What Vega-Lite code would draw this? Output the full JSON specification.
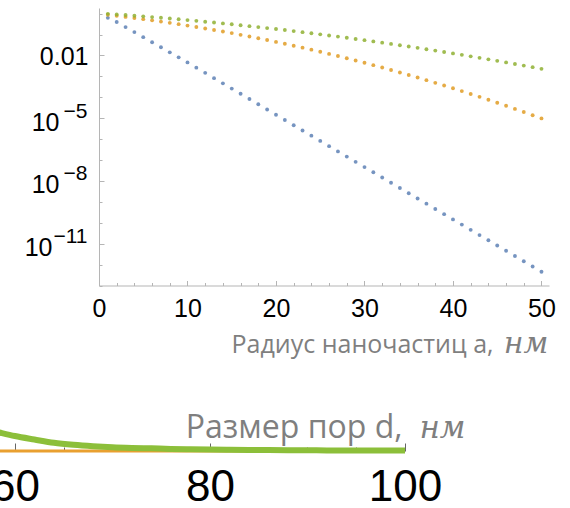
{
  "$schema": "https://vega.github.io/schema/vega-lite/v6.json",
  "background": "white",
  "width": 570,
  "height": 508,
  "autosize": {"type": "none", "contains": "padding"},
  "padding": 0,
  "config": {"view": {"stroke": null}, "axis": {"grid": false}},
  "datasets": {
    "particles": [
      {"a":1,"p":0.631,"s":"s1"},{"a":2,"p":0.398,"s":"s1"},{"a":3,"p":0.228,"s":"s1"},{"a":4,"p":0.131,"s":"s1"},{"a":5,"p":0.075,"s":"s1"},
      {"a":6,"p":0.0431,"s":"s1"},{"a":7,"p":0.0247,"s":"s1"},{"a":8,"p":0.0141,"s":"s1"},{"a":9,"p":0.00811,"s":"s1"},{"a":10,"p":0.00465,"s":"s1"},
      {"a":11,"p":0.00261,"s":"s1"},{"a":12,"p":0.00147,"s":"s1"},{"a":13,"p":0.000824,"s":"s1"},{"a":14,"p":0.000463,"s":"s1"},{"a":15,"p":0.000261,"s":"s1"},
      {"a":16,"p":0.000147,"s":"s1"},{"a":17,"p":8.24e-5,"s":"s1"},{"a":18,"p":4.62e-5,"s":"s1"},{"a":19,"p":2.6e-5,"s":"s1"},{"a":20,"p":1.46e-5,"s":"s1"},
      {"a":21,"p":8.22e-6,"s":"s1"},{"a":22,"p":4.62e-6,"s":"s1"},{"a":23,"p":2.59e-6,"s":"s1"},{"a":24,"p":1.46e-6,"s":"s1"},{"a":25,"p":8.2e-7,"s":"s1"},
      {"a":26,"p":4.61e-7,"s":"s1"},{"a":27,"p":2.59e-7,"s":"s1"},{"a":28,"p":1.46e-7,"s":"s1"},{"a":29,"p":8.18e-8,"s":"s1"},{"a":30,"p":4.6e-8,"s":"s1"},
      {"a":31,"p":2.59e-8,"s":"s1"},{"a":32,"p":1.46e-8,"s":"s1"},{"a":33,"p":8.17e-9,"s":"s1"},{"a":34,"p":4.59e-9,"s":"s1"},{"a":35,"p":2.58e-9,"s":"s1"},
      {"a":36,"p":1.45e-9,"s":"s1"},{"a":37,"p":8.17e-10,"s":"s1"},{"a":38,"p":4.58e-10,"s":"s1"},{"a":39,"p":2.58e-10,"s":"s1"},{"a":40,"p":1.45e-10,"s":"s1"},
      {"a":41,"p":8.15e-11,"s":"s1"},{"a":42,"p":4.58e-11,"s":"s1"},{"a":43,"p":2.57e-11,"s":"s1"},{"a":44,"p":1.45e-11,"s":"s1"},{"a":45,"p":8.13e-12,"s":"s1"},
      {"a":46,"p":4.57e-12,"s":"s1"},{"a":47,"p":2.57e-12,"s":"s1"},{"a":48,"p":1.44e-12,"s":"s1"},{"a":49,"p":8.11e-13,"s":"s1"},{"a":50,"p":4.56e-13,"s":"s1"},
      {"a":1,"p":0.879,"s":"s2"},{"a":2,"p":0.785,"s":"s2"},{"a":3,"p":0.7,"s":"s2"},{"a":4,"p":0.619,"s":"s2"},{"a":5,"p":0.546,"s":"s2"},
      {"a":6,"p":0.479,"s":"s2"},{"a":7,"p":0.417,"s":"s2"},{"a":8,"p":0.362,"s":"s2"},{"a":9,"p":0.313,"s":"s2"},{"a":10,"p":0.269,"s":"s2"},
      {"a":11,"p":0.23,"s":"s2"},{"a":12,"p":0.195,"s":"s2"},{"a":13,"p":0.165,"s":"s2"},{"a":14,"p":0.139,"s":"s2"},{"a":15,"p":0.117,"s":"s2"},
      {"a":16,"p":0.097,"s":"s2"},{"a":17,"p":0.0805,"s":"s2"},{"a":18,"p":0.0665,"s":"s2"},{"a":19,"p":0.0546,"s":"s2"},{"a":20,"p":0.0446,"s":"s2"},
      {"a":21,"p":0.0362,"s":"s2"},{"a":22,"p":0.0293,"s":"s2"},{"a":23,"p":0.0236,"s":"s2"},{"a":24,"p":0.0189,"s":"s2"},{"a":25,"p":0.015,"s":"s2"},
      {"a":26,"p":0.0119,"s":"s2"},{"a":27,"p":0.00938,"s":"s2"},{"a":28,"p":0.00736,"s":"s2"},{"a":29,"p":0.00574,"s":"s2"},{"a":30,"p":0.00446,"s":"s2"},
      {"a":31,"p":0.00344,"s":"s2"},{"a":32,"p":0.00265,"s":"s2"},{"a":33,"p":0.00202,"s":"s2"},{"a":34,"p":0.00154,"s":"s2"},{"a":35,"p":0.00117,"s":"s2"},
      {"a":36,"p":0.000879,"s":"s2"},{"a":37,"p":0.000658,"s":"s2"},{"a":38,"p":0.000491,"s":"s2"},{"a":39,"p":0.000365,"s":"s2"},{"a":40,"p":0.000269,"s":"s2"},
      {"a":41,"p":0.000198,"s":"s2"},{"a":42,"p":0.000144,"s":"s2"},{"a":43,"p":0.000105,"s":"s2"},{"a":44,"p":7.59e-5,"s":"s2"},{"a":45,"p":5.47e-5,"s":"s2"},
      {"a":46,"p":3.92e-5,"s":"s2"},{"a":47,"p":2.79e-5,"s":"s2"},{"a":48,"p":1.98e-5,"s":"s2"},{"a":49,"p":1.39e-5,"s":"s2"},{"a":50,"p":9.8e-6,"s":"s2"},
      {"a":1,"p":0.98,"s":"s3"},{"a":2,"p":0.916,"s":"s3"},{"a":3,"p":0.855,"s":"s3"},{"a":4,"p":0.796,"s":"s3"},{"a":5,"p":0.74,"s":"s3"},
      {"a":6,"p":0.684,"s":"s3"},{"a":7,"p":0.632,"s":"s3"},{"a":8,"p":0.583,"s":"s3"},{"a":9,"p":0.536,"s":"s3"},{"a":10,"p":0.492,"s":"s3"},
      {"a":11,"p":0.451,"s":"s3"},{"a":12,"p":0.411,"s":"s3"},{"a":13,"p":0.375,"s":"s3"},{"a":14,"p":0.34,"s":"s3"},{"a":15,"p":0.309,"s":"s3"},
      {"a":16,"p":0.28,"s":"s3"},{"a":17,"p":0.252,"s":"s3"},{"a":18,"p":0.228,"s":"s3"},{"a":19,"p":0.204,"s":"s3"},{"a":20,"p":0.183,"s":"s3"},
      {"a":21,"p":0.164,"s":"s3"},{"a":22,"p":0.146,"s":"s3"},{"a":23,"p":0.13,"s":"s3"},{"a":24,"p":0.115,"s":"s3"},{"a":25,"p":0.102,"s":"s3"},
      {"a":26,"p":0.0904,"s":"s3"},{"a":27,"p":0.0796,"s":"s3"},{"a":28,"p":0.07,"s":"s3"},{"a":29,"p":0.0615,"s":"s3"},{"a":30,"p":0.0538,"s":"s3"},
      {"a":31,"p":0.047,"s":"s3"},{"a":32,"p":0.0409,"s":"s3"},{"a":33,"p":0.0356,"s":"s3"},{"a":34,"p":0.0308,"s":"s3"},{"a":35,"p":0.0267,"s":"s3"},
      {"a":36,"p":0.0231,"s":"s3"},{"a":37,"p":0.0199,"s":"s3"},{"a":38,"p":0.0171,"s":"s3"},{"a":39,"p":0.0146,"s":"s3"},{"a":40,"p":0.0125,"s":"s3"},
      {"a":41,"p":0.0107,"s":"s3"},{"a":42,"p":0.00908,"s":"s3"},{"a":43,"p":0.00771,"s":"s3"},{"a":44,"p":0.00653,"s":"s3"},{"a":45,"p":0.00551,"s":"s3"},
      {"a":46,"p":0.00465,"s":"s3"},{"a":47,"p":0.00391,"s":"s3"},{"a":48,"p":0.00328,"s":"s3"},{"a":49,"p":0.00275,"s":"s3"},{"a":50,"p":0.00229,"s":"s3"}
    ],
    "pores": [
      {"d":56,"h":0,"s":"orange"},{"d":100,"h":0,"s":"orange"},
      {"d":56,"h":1.17,"s":"green"},{"d":58,"h":0.95,"s":"green"},{"d":60,"h":0.73,"s":"green"},{"d":62,"h":0.56,"s":"green"},
      {"d":64,"h":0.4,"s":"green"},{"d":66,"h":0.3,"s":"green"},{"d":68,"h":0.23,"s":"green"},{"d":70,"h":0.18,"s":"green"},
      {"d":72,"h":0.15,"s":"green"},{"d":74,"h":0.13,"s":"green"},{"d":76,"h":0.1,"s":"green"},{"d":78,"h":0.083,"s":"green"},
      {"d":80,"h":0.068,"s":"green"},{"d":82,"h":0.059,"s":"green"},{"d":84,"h":0.049,"s":"green"},{"d":86,"h":0.044,"s":"green"},
      {"d":88,"h":0.039,"s":"green"},{"d":90,"h":0.034,"s":"green"},{"d":92,"h":0.029,"s":"green"},{"d":94,"h":0.029,"s":"green"},
      {"d":96,"h":0.024,"s":"green"},{"d":98,"h":0.024,"s":"green"},{"d":100,"h":0.024,"s":"green"}
    ]
  },
  "layer": [
    {
      "data": {"name": "particles"},
      "mark": {"type": "point", "filled": true, "size": 15, "opacity": 0.85},
      "encoding": {
        "x": {
          "field": "a", "type": "quantitative",
          "scale": {"domain": [0, 50.85], "range": [99, 549], "nice": false, "zero": false},
          "axis": {
            "orient": "bottom", "offset": -222.5,
            "values": [0,2,4,6,8,10,12,14,16,18,20,22,24,26,28,30,32,34,36,38,40,42,44,46,48,50],
            "format": "d",
            "labelExpr": "datum.value % 10 == 0 ? datum.label : ''",
            "tickSize": {"condition": {"test": "datum.value % 10 == 0", "value": -5}, "value": -3},
            "domainColor": "#b5b5b5", "tickColor": "#b5b5b5",
            "labelFont": "Liberation Sans", "labelFontSize": 25, "labelColor": "#000000", "labelPadding": 15.5,
            "labelFlush": false, "labelOverlap": false,
            "title": "Радиус наночастиц a,",
            "titleFont": "Open Sans", "titleFontSize": 25, "titleFontWeight": "normal", "titleColor": "#7f7f7f",
            "titleX": 493, "titleY": 66.5, "titleAlign": "right", "titleBaseline": "alphabetic", "titleAnchor": "start"
          }
        },
        "y": {
          "field": "p", "type": "quantitative",
          "scale": {"type": "log", "domain": [1e-13, 1.86], "range": [285.5, 8], "nice": false},
          "axis": {
            "orient": "left", "offset": -99,
            "values": [1,0.1,0.01,0.001,0.0001,1e-5,1e-6,1e-7,1e-8,1e-9,1e-10,1e-11,1e-12,1e-13],
            "labelExpr": "round(log(datum.value)/LN10) == -2 ? '0.01' : indexof([-5,-8,-11], round(log(datum.value)/LN10)) >= 0 ? '10' : ''",
            "tickSize": {"condition": {"test": "indexof([-2,-5,-8,-11], round(log(datum.value)/LN10)) >= 0", "value": -5}, "value": -3},
            "labelPadding": {"condition": [
              {"test": "round(log(datum.value)/LN10) == -2", "value": 16},
              {"test": "round(log(datum.value)/LN10) == -11", "value": 52}
            ], "value": 45},
            "labelOffset": {"condition": {"test": "round(log(datum.value)/LN10) == -2", "value": 1}, "value": 4},
            "domainColor": "#b5b5b5", "tickColor": "#b5b5b5",
            "labelFont": "Liberation Sans", "labelFontSize": 25, "labelColor": "#000000",
            "labelAlign": "right", "labelBaseline": "middle",
            "labelOverlap": false, "labelFlush": false,
            "title": null
          }
        },
        "color": {
          "field": "s", "type": "nominal",
          "scale": {"domain": ["s1", "s2", "s3"], "range": ["#5E81B5", "#E19C24", "#8FB032"]},
          "legend": null
        }
      }
    },
    {
      "data": {"name": "particles"},
      "mark": {"type": "point", "filled": true, "size": 1, "opacity": 0},
      "encoding": {
        "x": {
          "field": "a", "type": "quantitative",
          "scale": {"domain": [0, 50.85], "range": [99, 549], "nice": false, "zero": false},
          "axis": {
            "orient": "bottom", "offset": -222.5,
            "domain": false, "ticks": false, "labels": false,
            "title": "нм",
            "titleFont": "DejaVu Serif", "titleFontStyle": "italic", "titleFontSize": 30, "titleFontWeight": "normal", "titleColor": "#7f7f7f",
            "titleX": 548, "titleY": 66.5, "titleAlign": "right", "titleBaseline": "alphabetic", "titleAnchor": "start"
          }
        },
        "y": {
          "field": "p", "type": "quantitative",
          "scale": {"type": "log", "domain": [1e-13, 1.86], "range": [285.5, 8], "nice": false},
          "axis": {
            "orient": "left", "offset": -99,
            "values": [1,0.1,0.01,0.001,0.0001,1e-5,1e-6,1e-7,1e-8,1e-9,1e-10,1e-11,1e-12,1e-13],
            "labelExpr": "round(log(datum.value)/LN10) == -5 ? '−5' : round(log(datum.value)/LN10) == -8 ? '−8' : round(log(datum.value)/LN10) == -11 ? '−11' : ''",
            "domain": false, "ticks": false,
            "labelFont": "Liberation Sans", "labelFontSize": 21, "labelColor": "#000000",
            "labelAlign": "right", "labelBaseline": "middle", "labelPadding": 12, "labelOffset": -7,
            "labelOverlap": false, "labelFlush": false,
            "title": null
          }
        }
      }
    },
    {
      "data": {"name": "pores"},
      "transform": [{"filter": "datum.s == 'orange'"}],
      "mark": {"type": "line", "color": "#E9A030", "strokeWidth": 3, "clip": true},
      "encoding": {
        "x": {
          "field": "d", "type": "quantitative",
          "scale": {"domain": [58.47, 100], "range": [0, 405], "nice": false, "zero": false},
          "axis": {
            "orient": "bottom", "offset": -57,
            "values": [60,65,70,75,80,85,90,95,100],
            "format": "d",
            "labelExpr": "datum.value % 20 == 0 ? datum.label : ''",
            "tickSize": {"condition": {"test": "datum.value % 20 == 0", "value": -8}, "value": -4},
            "domainColor": "#aaaaaa", "tickColor": "#666666",
            "labelFont": "Liberation Sans", "labelFontSize": 44, "labelColor": "#000000", "labelPadding": 22,
            "labelFlush": false, "labelOverlap": false,
            "title": "Размер пор d,",
            "titleFont": "Open Sans", "titleFontSize": 32, "titleFontWeight": "normal", "titleColor": "#7f7f7f",
            "titleX": 402, "titleY": -14, "titleAlign": "right", "titleBaseline": "alphabetic", "titleAnchor": "start"
          }
        },
        "y": {
          "field": "h", "type": "quantitative",
          "scale": {"domain": [0, 4], "range": [451, 369], "nice": false, "zero": false},
          "axis": null
        }
      }
    },
    {
      "data": {"name": "pores"},
      "transform": [{"filter": "datum.s == 'green'"}],
      "mark": {"type": "line", "color": "#8CBF3A", "strokeWidth": 6, "clip": true, "interpolate": "monotone"},
      "encoding": {
        "x": {
          "field": "d", "type": "quantitative",
          "scale": {"domain": [58.47, 100], "range": [0, 405], "nice": false, "zero": false},
          "axis": {
            "orient": "bottom", "offset": -57,
            "domain": false, "ticks": false, "labels": false,
            "title": "нм",
            "titleFont": "DejaVu Serif", "titleFontStyle": "italic", "titleFontSize": 31, "titleFontWeight": "normal", "titleColor": "#7f7f7f",
            "titleX": 465, "titleY": -14, "titleAlign": "right", "titleBaseline": "alphabetic", "titleAnchor": "start"
          }
        },
        "y": {
          "field": "h", "type": "quantitative",
          "scale": {"domain": [0, 4], "range": [451, 369], "nice": false, "zero": false},
          "axis": null
        }
      }
    }
  ],
  "resolve": {"scale": {"x": "independent", "y": "independent", "color": "independent"}}
}
